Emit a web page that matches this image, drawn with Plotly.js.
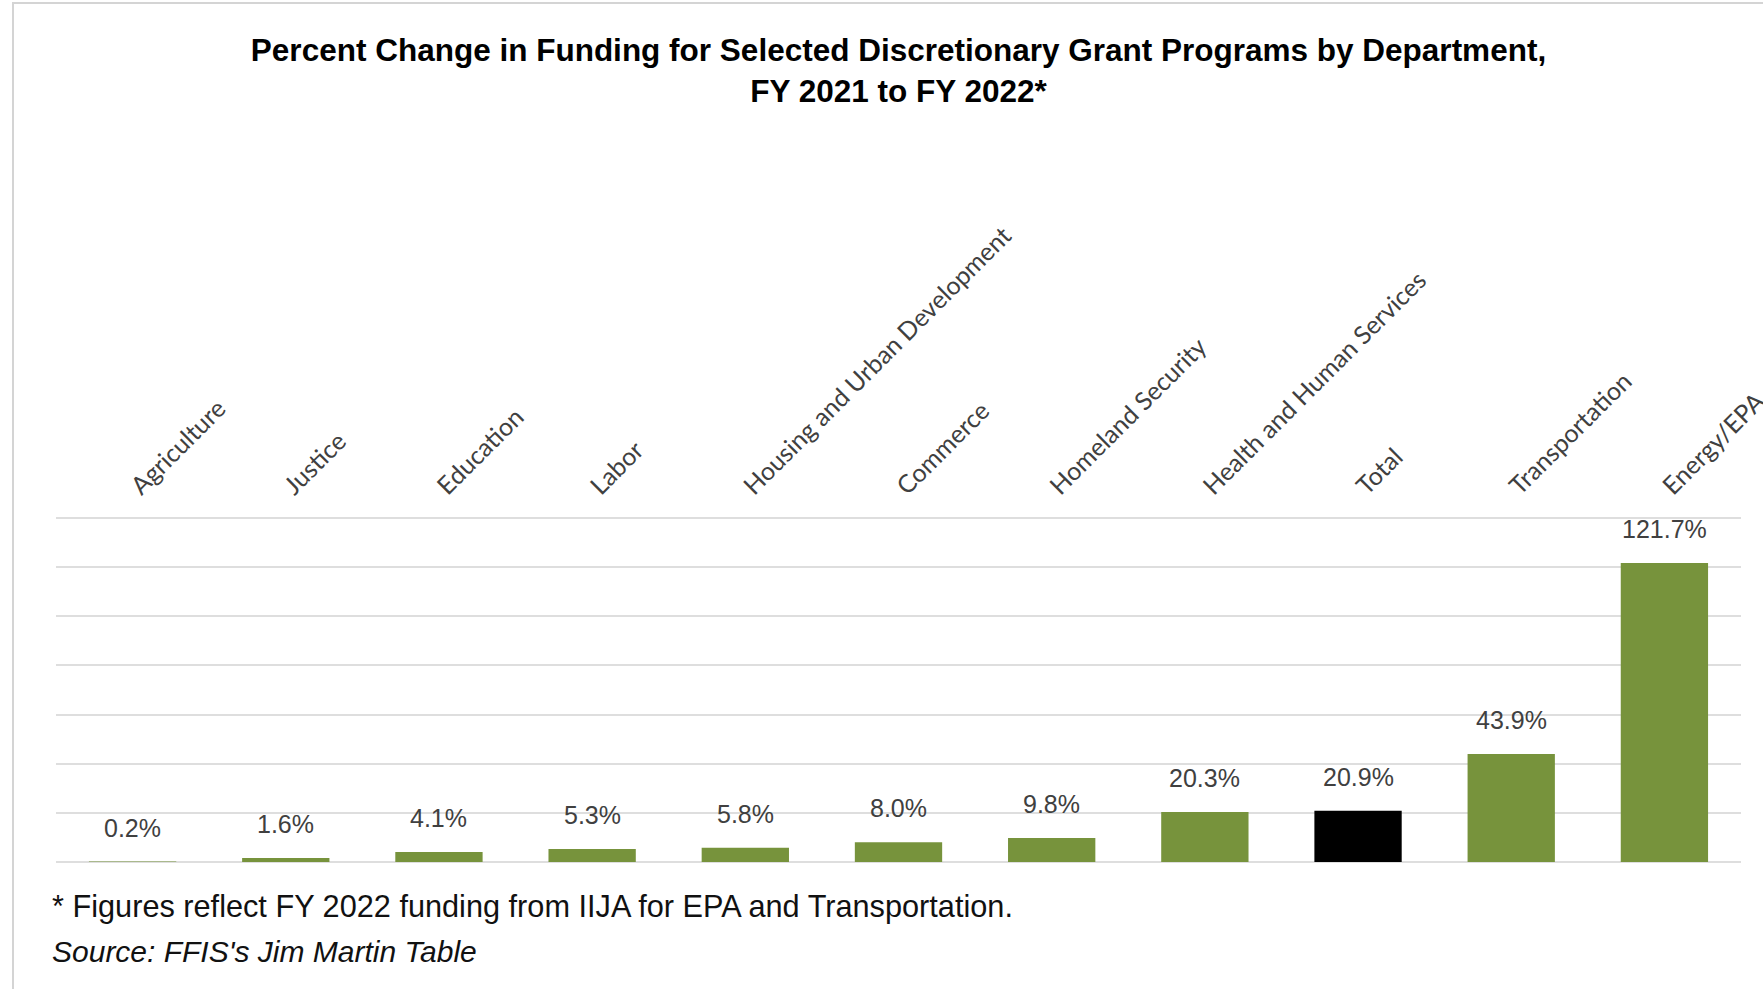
<!DOCTYPE html>
<html>
<head>
<meta charset="utf-8">
<script src="https://cdn.plot.ly/plotly-3.0.1.min.js"></script>
<style>
  html, body { margin: 0; padding: 0; background: #fff; }
  #chart { width: 1763px; height: 989px; }
</style>
</head>
<body>
<div id="chart"></div>
<script>
// ---- Data ----
const categories = ["Agriculture", "Justice", "Education", "Labor", "Housing and Urban Development",
  "Commerce", "Homeland Security", "Health and Human Services", "Total", "Transportation", "Energy/EPA"];
const percentChange = [0.2, 1.6, 4.1, 5.3, 5.8, 8.0, 9.8, 20.3, 20.9, 43.9, 121.7];
const valueLabels = ["0.2%", "1.6%", "4.1%", "5.3%", "5.8%", "8.0%", "9.8%", "20.3%", "20.9%", "43.9%", "121.7%"];
const gridValues = [0, 20, 40, 60, 80, 100, 120, 140];
const titleText = "Percent Change in Funding for Selected Discretionary Grant Programs by Department,<br>FY 2021 to FY 2022*";
const footnoteText = "* Figures reflect FY 2022 funding from IIJA for EPA and Transportation.";
const sourceText = "Source: FFIS's Jim Martin Table";

// ---- Styling ----
const GREEN = "#77933C";
const barColors = categories.map(c => c === "Total" ? "#000000" : GREEN);

const W = 1763, H = 989;
const M = { l: 56, r: 22, t: 513, b: 127 };
const plotH = H - M.t - M.b;
const plotW = W - M.l - M.r;
const py = px => (H - M.b - px) / plotH;   // pixel y -> paper y
const pxX = px => (px - M.l) / plotW;      // pixel x -> paper x

const annotations = categories.map((c, i) => ({
  x: c, y: percentChange[i], xref: "x", yref: "y",
  text: valueLabels[i], showarrow: false,
  xanchor: "center", yanchor: "bottom", yshift: 18,
  font: { family: "Liberation Sans, Arial, sans-serif", size: 25, color: "#404040" }
}));

annotations.push({
  xref: "paper", yref: "paper", x: pxX(50), y: py(906),
  xanchor: "left", yanchor: "middle", align: "left", showarrow: false,
  text: footnoteText,
  font: { family: "Liberation Sans, Arial, sans-serif", size: 30.7, color: "#111111" }
});
annotations.push({
  xref: "paper", yref: "paper", x: pxX(50), y: py(951),
  xanchor: "left", yanchor: "middle", align: "left", showarrow: false,
  text: "<i>" + sourceText + "</i>",
  font: { family: "Liberation Sans, Arial, sans-serif", size: 30, color: "#111111" }
});

const trace = {
  type: "bar",
  x: categories,
  y: percentChange,
  marker: { color: barColors },
  hoverinfo: "x+y"
};

const layout = {
  width: W, height: H,
  margin: M,
  paper_bgcolor: "#ffffff",
  plot_bgcolor: "#ffffff",
  showlegend: false,
  bargap: 0.43,
  title: {
    text: titleText,
    x: 0.5, xref: "paper", xanchor: "center",
    y: 1 - 61 / H, yref: "container", yanchor: "middle",
    font: { family: "Liberation Sans, Arial, sans-serif", size: 31.5, color: "#000000", weight: "bold" }
  },
  xaxis: {
    type: "category",
    side: "top",
    tickangle: -45,
    showline: false,
    showgrid: false,
    zeroline: false,
    ticks: "",
    ticklabelstandoff: 7,
    tickfont: { family: "Lato, Open Sans, sans-serif", size: 25, color: "#404040" }
  },
  yaxis: {
    range: [0, 142],
    tickmode: "array",
    tickvals: gridValues,
    showticklabels: false,
    showgrid: true,
    gridcolor: "#dedede",
    gridwidth: 2,
    zeroline: true,
    zerolinecolor: "#dedede",
    zerolinewidth: 2,
    showline: false,
    ticks: ""
  },
  annotations: annotations,
  shapes: [{
    type: "rect", xref: "paper", yref: "paper",
    x0: pxX(13), x1: pxX(1780), y0: py(1000), y1: py(3),
    line: { color: "#d4d4d4", width: 2 }, fillcolor: "rgba(0,0,0,0)", layer: "below"
  }]
};

Plotly.newPlot("chart", [trace], layout, { displayModeBar: false, staticPlot: true });
</script>
</body>
</html>
